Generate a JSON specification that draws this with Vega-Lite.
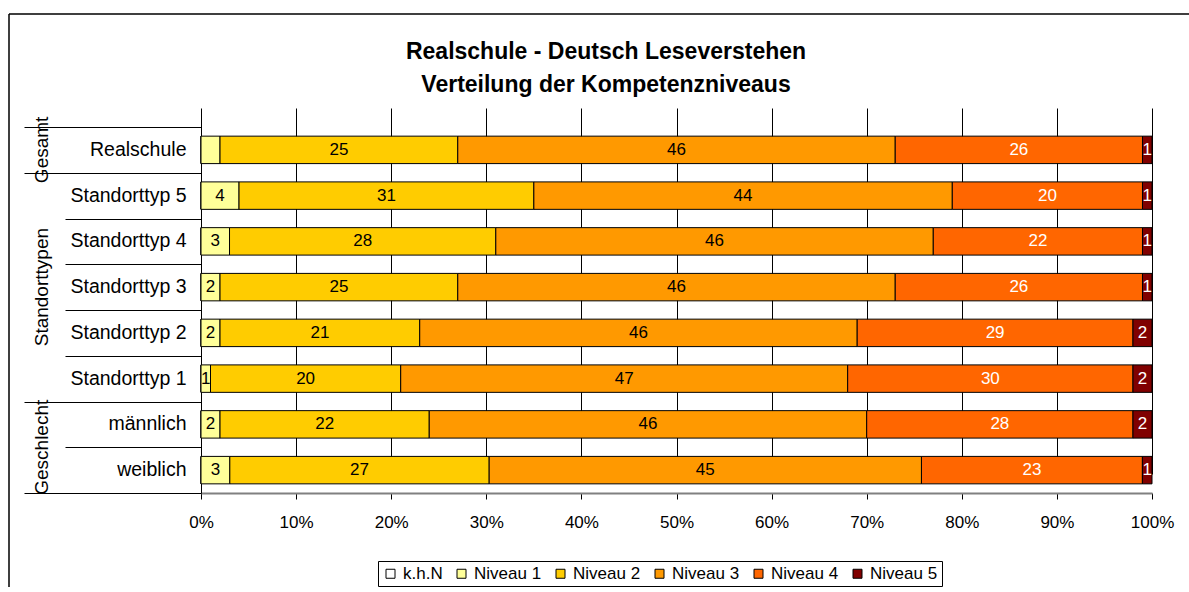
{
  "$schema": "https://vega.github.io/schema/vega-lite/v6.json",
  "width": 1180,
  "height": 573,
  "autosize": {"type": "none"},
  "padding": {"left": 9, "top": 14, "right": 0, "bottom": 0},
  "background": "white",
  "title": {
    "text": ["Realschule - Deutsch Leseverstehen", "Verteilung der Kompetenzniveaus"],
    "font": "Liberation Sans",
    "fontSize": 23,
    "fontWeight": "bold",
    "color": "black",
    "lineHeight": 33,
    "anchor": "middle",
    "frame": "group",
    "offset": -83,
    "dx": 7
  },
  "data": {
    "values": [
      {"row": "Realschule", "level": "k.h.N", "lvl": 0, "value": 0, "label": ""},
      {"row": "Realschule", "level": "Niveau 1", "lvl": 1, "value": 2, "label": ""},
      {"row": "Realschule", "level": "Niveau 2", "lvl": 2, "value": 25, "label": "25"},
      {"row": "Realschule", "level": "Niveau 3", "lvl": 3, "value": 46, "label": "46"},
      {"row": "Realschule", "level": "Niveau 4", "lvl": 4, "value": 26, "label": "26"},
      {"row": "Realschule", "level": "Niveau 5", "lvl": 5, "value": 1, "label": "1"},
      {"row": "Standorttyp 5", "level": "k.h.N", "lvl": 0, "value": 0, "label": ""},
      {"row": "Standorttyp 5", "level": "Niveau 1", "lvl": 1, "value": 4, "label": "4"},
      {"row": "Standorttyp 5", "level": "Niveau 2", "lvl": 2, "value": 31, "label": "31"},
      {"row": "Standorttyp 5", "level": "Niveau 3", "lvl": 3, "value": 44, "label": "44"},
      {"row": "Standorttyp 5", "level": "Niveau 4", "lvl": 4, "value": 20, "label": "20"},
      {"row": "Standorttyp 5", "level": "Niveau 5", "lvl": 5, "value": 1, "label": "1"},
      {"row": "Standorttyp 4", "level": "k.h.N", "lvl": 0, "value": 0, "label": ""},
      {"row": "Standorttyp 4", "level": "Niveau 1", "lvl": 1, "value": 3, "label": "3"},
      {"row": "Standorttyp 4", "level": "Niveau 2", "lvl": 2, "value": 28, "label": "28"},
      {"row": "Standorttyp 4", "level": "Niveau 3", "lvl": 3, "value": 46, "label": "46"},
      {"row": "Standorttyp 4", "level": "Niveau 4", "lvl": 4, "value": 22, "label": "22"},
      {"row": "Standorttyp 4", "level": "Niveau 5", "lvl": 5, "value": 1, "label": "1"},
      {"row": "Standorttyp 3", "level": "k.h.N", "lvl": 0, "value": 0, "label": ""},
      {"row": "Standorttyp 3", "level": "Niveau 1", "lvl": 1, "value": 2, "label": "2"},
      {"row": "Standorttyp 3", "level": "Niveau 2", "lvl": 2, "value": 25, "label": "25"},
      {"row": "Standorttyp 3", "level": "Niveau 3", "lvl": 3, "value": 46, "label": "46"},
      {"row": "Standorttyp 3", "level": "Niveau 4", "lvl": 4, "value": 26, "label": "26"},
      {"row": "Standorttyp 3", "level": "Niveau 5", "lvl": 5, "value": 1, "label": "1"},
      {"row": "Standorttyp 2", "level": "k.h.N", "lvl": 0, "value": 0, "label": ""},
      {"row": "Standorttyp 2", "level": "Niveau 1", "lvl": 1, "value": 2, "label": "2"},
      {"row": "Standorttyp 2", "level": "Niveau 2", "lvl": 2, "value": 21, "label": "21"},
      {"row": "Standorttyp 2", "level": "Niveau 3", "lvl": 3, "value": 46, "label": "46"},
      {"row": "Standorttyp 2", "level": "Niveau 4", "lvl": 4, "value": 29, "label": "29"},
      {"row": "Standorttyp 2", "level": "Niveau 5", "lvl": 5, "value": 2, "label": "2"},
      {"row": "Standorttyp 1", "level": "k.h.N", "lvl": 0, "value": 0, "label": ""},
      {"row": "Standorttyp 1", "level": "Niveau 1", "lvl": 1, "value": 1, "label": "1"},
      {"row": "Standorttyp 1", "level": "Niveau 2", "lvl": 2, "value": 20, "label": "20"},
      {"row": "Standorttyp 1", "level": "Niveau 3", "lvl": 3, "value": 47, "label": "47"},
      {"row": "Standorttyp 1", "level": "Niveau 4", "lvl": 4, "value": 30, "label": "30"},
      {"row": "Standorttyp 1", "level": "Niveau 5", "lvl": 5, "value": 2, "label": "2"},
      {"row": "männlich", "level": "k.h.N", "lvl": 0, "value": 0, "label": ""},
      {"row": "männlich", "level": "Niveau 1", "lvl": 1, "value": 2, "label": "2"},
      {"row": "männlich", "level": "Niveau 2", "lvl": 2, "value": 22, "label": "22"},
      {"row": "männlich", "level": "Niveau 3", "lvl": 3, "value": 46, "label": "46"},
      {"row": "männlich", "level": "Niveau 4", "lvl": 4, "value": 28, "label": "28"},
      {"row": "männlich", "level": "Niveau 5", "lvl": 5, "value": 2, "label": "2"},
      {"row": "weiblich", "level": "k.h.N", "lvl": 0, "value": 0, "label": ""},
      {"row": "weiblich", "level": "Niveau 1", "lvl": 1, "value": 3, "label": "3"},
      {"row": "weiblich", "level": "Niveau 2", "lvl": 2, "value": 27, "label": "27"},
      {"row": "weiblich", "level": "Niveau 3", "lvl": 3, "value": 45, "label": "45"},
      {"row": "weiblich", "level": "Niveau 4", "lvl": 4, "value": 23, "label": "23"},
      {"row": "weiblich", "level": "Niveau 5", "lvl": 5, "value": 1, "label": "1"}
    ]
  },
  "layer": [
    {
      "layer": [
        {
          "mark": {"type": "bar", "stroke": "black", "strokeWidth": 1},
          "encoding": {
            "y": {
              "field": "row",
              "type": "nominal",
              "sort": ["Realschule", "Standorttyp 5", "Standorttyp 4", "Standorttyp 3", "Standorttyp 2", "Standorttyp 1", "männlich", "weiblich"],
              "scale": {"type": "band", "range": [113, 479], "paddingInner": 0.4, "paddingOuter": 0.2},
              "axis": {
                "orient": "left",
                "offset": -192,
                "ticks": false,
                "labelPadding": 15,
                "labelFont": "Liberation Sans",
                "labelFontSize": 19.5,
                "labelColor": "black",
                "labelLimit": 0,
                "domainColor": "black",
                "domainWidth": 1,
                "grid": false,
                "title": null
              }
            },
            "x": {
              "field": "value",
              "type": "quantitative",
              "stack": "normalize",
              "scale": {"domain": [0, 1], "range": [192, 1143], "nice": false},
              "axis": {
                "orient": "bottom",
                "offset": -94,
                "values": [0, 0.1, 0.2, 0.3, 0.4, 0.5, 0.6, 0.7, 0.8, 0.9, 1],
                "format": ".0%",
                "grid": true,
                "gridColor": "black",
                "gridWidth": 1,
                "gridOpacity": 1,
                "tickColor": "black",
                "tickSize": 6,
                "domainColor": "#808080",
                "domainWidth": 2,
                "labelFont": "Liberation Sans",
                "labelFontSize": 17,
                "labelColor": "black",
                "labelPadding": 15,
                "labelFlush": false,
                "title": null
              }
            },
            "color": {
              "field": "level",
              "type": "nominal",
              "scale": {
                "domain": ["k.h.N", "Niveau 1", "Niveau 2", "Niveau 3", "Niveau 4", "Niveau 5"],
                "range": ["#FFFFFF", "#FFFF99", "#FFCC00", "#FF9900", "#FF6600", "#800000"]
              },
              "legend": {
                "orient": "none",
                "legendX": 369,
                "legendY": 547,
                "direction": "horizontal",
                "title": null,
                "strokeColor": "black",
                "fillColor": "white",
                "padding": 4,
                "symbolType": "square",
                "symbolSize": 81,
                "symbolStrokeColor": "black",
                "symbolStrokeWidth": 1,
                "symbolOpacity": 1,
                "labelFont": "Liberation Sans",
                "labelFontSize": 17,
                "labelColor": "black",
                "labelOffset": 4,
                "columnPadding": 10
              }
            },
            "order": {"field": "lvl", "type": "quantitative"}
          }
        },
        {
          "mark": {"type": "text", "font": "Liberation Sans", "fontSize": 17, "baseline": "middle", "align": "center"},
          "encoding": {
            "y": {
              "field": "row",
              "type": "nominal",
              "sort": ["Realschule", "Standorttyp 5", "Standorttyp 4", "Standorttyp 3", "Standorttyp 2", "Standorttyp 1", "männlich", "weiblich"]
            },
            "x": {"field": "value", "type": "quantitative", "stack": "normalize", "bandPosition": 0.5},
            "detail": {"field": "level"},
            "order": {"field": "lvl", "type": "quantitative"},
            "text": {"field": "label"},
            "color": {
              "condition": {"test": "datum.level === 'Niveau 4' || datum.level === 'Niveau 5'", "value": "white"},
              "value": "black"
            }
          }
        }
      ]
    },
    {
      "mark": {"type": "point", "opacity": 0},
      "encoding": {
        "y": {
          "field": "row",
          "type": "nominal",
          "sort": ["Realschule", "Standorttyp 5", "Standorttyp 4", "Standorttyp 3", "Standorttyp 2", "Standorttyp 1", "männlich", "weiblich"],
          "scale": {"type": "band", "range": [113, 479], "paddingInner": 0, "paddingOuter": 0},
          "axis": {
            "orient": "left",
            "offset": -192,
            "labels": false,
            "domain": false,
            "grid": false,
            "title": null,
            "tickBand": "extent",
            "tickColor": "black",
            "tickWidth": 1,
            "tickSize": {
              "condition": {"test": "datum.value == null || datum.value === 'Realschule' || datum.value === 'Standorttyp 1' || datum.value === 'weiblich'", "value": 177},
              "value": 136
            }
          }
        }
      }
    },
    {
      "mark": {"type": "point", "opacity": 0},
      "encoding": {
        "y": {
          "field": "row",
          "type": "nominal",
          "sort": ["Realschule", "Standorttyp 5", "Standorttyp 4", "Standorttyp 3", "Standorttyp 2", "Standorttyp 1", "männlich", "weiblich"],
          "scale": {"type": "band", "range": [113, 479], "paddingInner": 0, "paddingOuter": 0},
          "axis": {
            "orient": "left",
            "offset": -40,
            "ticks": false,
            "domain": false,
            "grid": false,
            "title": null,
            "labelPadding": 8,
            "labelAngle": 270,
            "labelAlign": "center",
            "labelBaseline": "middle",
            "labelFont": "Liberation Sans",
            "labelFontSize": 19,
            "labelColor": "black",
            "labelOverlap": false,
            "labelBound": false,
            "labelLimit": 0,
            "labelExpr": "datum.value === 'Realschule' ? 'Gesamt' : datum.value === 'Standorttyp 3' ? 'Standorttypen' : datum.value === 'männlich' ? 'Geschlecht' : ''",
            "labelOffset": {"condition": {"test": "datum.value === 'männlich'", "value": 22.875}, "value": 0}
          }
        }
      }
    }
  ],
  "resolve": {"scale": {"y": "independent"}, "axis": {"y": "independent"}},
  "config": {
    "view": {"stroke": "black", "strokeWidth": 1.5, "strokeDash": [1180, 1753, 573, 0]},
    "font": "Liberation Sans"
  }
}
